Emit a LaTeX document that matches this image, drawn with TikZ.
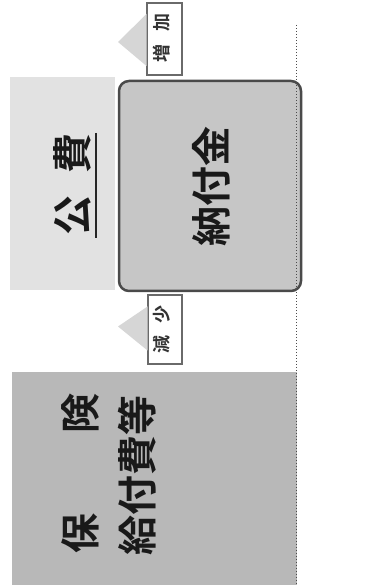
\documentclass[tikz,border=0pt]{standalone}
\usepackage{fontspec}
\newfontfamily\jp{Noto Sans CJK JP}[BoldFont={* Bold}]
\usetikzlibrary{calc}
\definecolor{kohifill}{HTML}{E2E2E2}
\definecolor{nofufill}{HTML}{C6C6C6}
\definecolor{nofuline}{HTML}{4A4A4A}
\definecolor{hokenfill}{HTML}{B8B8B8}
\definecolor{trifill}{HTML}{D6D6D6}
\definecolor{badgeline}{HTML}{6A6A6A}
\tikzset{
  box/.style={draw=none, inner sep=0pt, outer sep=0pt},
  bigtext/.style={rotate=90, inner sep=0pt, font=\jp\bfseries\fontsize{40}{44}\selectfont, text=black!90},
  badge/.style={draw=badgeline, line width=1.5pt, fill=white, inner sep=0pt, outer sep=0pt},
  badgetext/.style={rotate=90, inner sep=0pt, font=\jp\bfseries\fontsize{18}{22}\selectfont, text=black!80},
  tri/.style={fill=trifill, draw=none}
}
\begin{document}
\begin{tikzpicture}[x=1pt,y=1pt]
\useasboundingbox (0,0) rectangle (366,588);
% boxes
\node[box, fill=kohifill, minimum width=105, minimum height=213] (kohi) at (62.5,404.5) {};
\node[box, fill=nofufill, draw=nofuline, line width=2.5pt, rounded corners=10pt, minimum width=182, minimum height=210] (nofu) at (210,402) {};
\node[box, fill=hokenfill, minimum width=285, minimum height=213] (hoken) at (154.5,109.5) {};
% dotted guide line
\coordinate (gtop) at (296,563);
\coordinate (gbot) at (296,3);
\draw[black!70, line width=0.6pt, dash pattern=on 1pt off 2pt] (gtop) -- (gbot);
% texts
\node[bigtext] (kohit) at (72,403.5) {公\hspace{0.55em}費};
\coordinate (ulA) at (96,455);
\coordinate (ulB) at (96,350);
\draw[black!85, line width=2.5pt] (ulA) -- (ulB);
\node[bigtext] (nofut) at (211,401.5) {納付金};
\node[bigtext] (hok1a) at (80,55) {保};
\node[bigtext] (hok1b) at (80,174) {険};
\node[bigtext] (hok2) at (137.5,112) {給付費等};
% badges
\node[badge, minimum width=35, minimum height=72] (zoka) at (164.5,549) {};
\node[badgetext] (zokat) at ($(zoka.center)+(-3,1)$) {増\hspace{0.7em}加};
\node[badge, minimum width=34, minimum height=69] (gensho) at (165,258.5) {};
\node[badgetext] (genshot) at ($(gensho.center)+(-3,0)$) {減\hspace{0.65em}少};
% arrow heads
\fill[tri] ($(zoka.west)+(-0.5,25)$) -- ($(zoka.west)+(-29,-3)$) -- ($(zoka.west)+(-0.5,-27)$) -- cycle;
\fill[tri] ($(gensho.west)+(-0.5,23)$) -- ($(gensho.west)+(-30,3)$) -- ($(gensho.west)+(-0.5,-21)$) -- cycle;
\end{tikzpicture}
\end{document}
